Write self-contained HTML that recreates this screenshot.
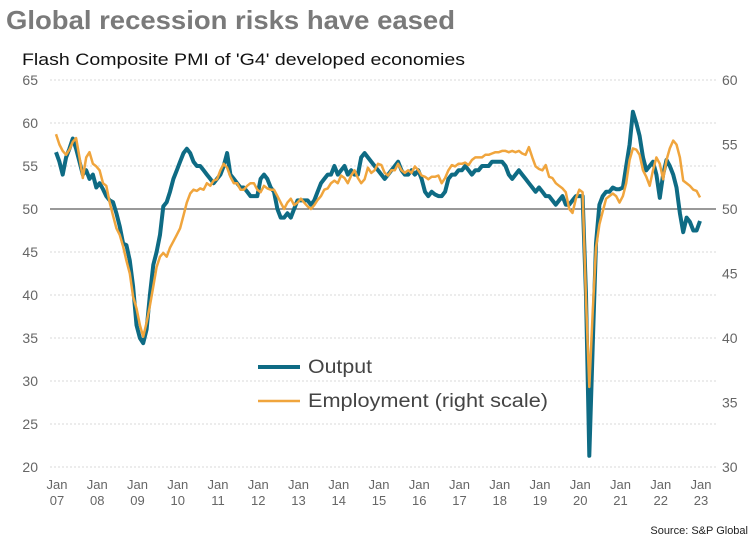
<!DOCTYPE html>
<html><head><meta charset="utf-8"><style>
body{margin:0;background:#fff;width:756px;height:544px;overflow:hidden}
svg{display:block;font-family:"Liberation Sans",sans-serif}
</style></head><body>
<svg id="chart" width="756" height="544">
<text x="6" y="29" font-size="26" font-weight="bold" fill="#7a7a7a" textLength="449" lengthAdjust="spacingAndGlyphs">Global recession risks have eased</text>
<text x="22" y="65" font-size="17" fill="#111" textLength="443" lengthAdjust="spacingAndGlyphs">Flash Composite PMI of 'G4' developed economies</text>
<g id="grid"></g><g id="axes"></g><g id="lines"></g>
<g>
<line x1="258" y1="367" x2="300" y2="367" stroke="#0e6b84" stroke-width="4"/>
<text x="308" y="373" font-size="19" fill="#444" textLength="64" lengthAdjust="spacingAndGlyphs">Output</text>
<line x1="258" y1="401" x2="300" y2="401" stroke="#f0a53d" stroke-width="2.5"/>
<text x="308" y="407" font-size="19" fill="#444" textLength="240" lengthAdjust="spacingAndGlyphs">Employment (right scale)</text>
</g>
<text x="748" y="534" font-size="11" fill="#222" text-anchor="end">Source: S&amp;P Global</text>
</svg>
<script>
const leftTicks=[20,25,30,35,40,45,50,55,60,65];
const rightTicks=[30,35,40,45,50,55,60];
const yearLabels=["07","08","09","10","11","12","13","14","15","16","17","18","19","20","21","22","23"];
const output=[
56.6,55.5,54,56,57,58.2,57,55.5,54,54.5,53.5,54,
52.5,53,52.3,51.5,51,50.8,49.5,48,46,45.8,44,41,
36.5,35,34.4,36,40,43.5,45,47,50.3,50.8,52,53.5,
54.5,55.5,56.5,57,56.5,55.5,55,55,54.5,54,53.5,53,
53.5,54,55,56.5,54,53.5,53,52.5,52.5,52,51.5,51.5,
51.5,53.5,54,53.5,52.5,52,50,49,49,49.5,49,50,
51,51,51,51,50.5,51,52,53,53.5,54,54,55,
54,54.5,55,54,54.5,54,54,56,56.5,56,55.5,55,
54.5,54,53.5,54,54.5,55,55.5,54.5,54,54,54.5,54,
54.5,53.5,52,51.5,52,51.7,51.5,51.5,52,53.5,54,54,
54.5,54.5,55,54.5,54,54.5,54.5,55,55,55,55.5,55.5,
55.5,55.5,55,54,53.5,54,54.5,54,53.5,53,52.5,52,
52.5,52,51.5,51.5,51,50.5,51,51.5,50.5,50.5,51,51.5,
51.5,51.5,40,21.3,34,46,50.5,51.5,52,52,52.5,52.3,
52.3,52.5,55,57.5,61.3,60,58.5,56,54.5,55,55.5,54,
51.3,54,55.7,55,54,52.5,49.5,47.3,49,48.5,47.5,47.5,
48.6];
const employment=[
55.8,55,54.5,54.2,54.6,55.2,55.5,54,52.4,54,54.4,53.5,
53.3,53,52,51.8,50.5,49.5,48.5,48,47.1,46,45,43.2,
42.3,41,40.1,41.2,42.5,44,45.5,46.3,46.6,46.3,47,47.5,
48,48.5,49.5,50.5,51.2,51.5,51.4,51.6,51.5,52,51.8,52.2,
52.3,53,53.5,53.2,52.5,52,52,51.5,51.5,51.8,52,52,
51.5,51.3,51.8,51.6,51.5,51.5,51,50.5,50,50.5,50.8,50.3,
50.5,50.8,50.5,50.2,50,50.3,50.7,51,51.5,51.6,52,52.2,
52,52.6,52.4,52,52.6,53,52.4,52,52.3,53.2,52.8,53,
53.5,53.4,52.8,52.6,53,53,53.5,53,52.8,53,52.8,53.3,
53,52.6,52.5,52.3,52.5,52.5,52.6,52,52.4,53,53.4,53.3,
53.5,53.5,53.6,53.4,53.8,54,54,54,54.2,54.2,54.3,54.4,
54.4,54.5,54.5,54.4,54.5,54.4,54.5,54.3,54.2,54.8,54,53.3,
53.1,53,53.4,52.5,52.4,52,51.8,51.6,51.3,50,49.7,50.8,
51.5,51.3,43,36.2,42,47,48.8,49.8,50.8,51,51.2,51,
50.5,51,52,53.8,54.7,54.6,54.2,53,52.5,51.8,53,54,
53.5,52.3,53.8,54.7,55.3,55,54,52.2,52,51.8,51.5,51.4,
50.9];
const NS="http://www.w3.org/2000/svg";
const X0=56,X1=700,T=80,B=467;
const xScale=i=>X0+i*(X1-X0)/192;
const yL=v=>T+(65-v)*(B-T)/45;
const yR=v=>T+(60-v)*(B-T)/30;
function mk(tag,attrs,parent,text){const e=document.createElementNS(NS,tag);for(const k in attrs)e.setAttribute(k,attrs[k]);if(text!==undefined)e.textContent=text;parent.appendChild(e);return e;}
const grid=document.getElementById('grid'),axes=document.getElementById('axes'),lines=document.getElementById('lines');
leftTicks.forEach(v=>{
 const y=yL(v);
 const g=mk('line',{x1:50,x2:716,y1:y,y2:y,stroke:'#d8d8d8','stroke-dasharray':'2,2'},grid);
 
 
 const t=mk('text',{x:38,y:y+5,'font-size':14,fill:'#666','text-anchor':'end'},axes,String(v));
 
 
});
rightTicks.forEach(v=>{
 const t=mk('text',{x:722,y:yR(v)+5,'font-size':14,fill:'#666'},axes,String(v));
 
 
});
const base=mk('line',{x1:50,x2:716,y1:yL(50),y2:yL(50),stroke:'#333','stroke-width':1},grid);


yearLabels.forEach((lab,k)=>{
 const x=xScale(k*12)+1;
 const a=mk('text',{x:x,y:489,'font-size':13,fill:'#666','text-anchor':'middle'},axes,'Jan');
 
 
 const b=mk('text',{x:x,y:505,'font-size':13,fill:'#666','text-anchor':'middle'},axes,lab);
 
 
});
const pe=mk('path',{d:employment.map((v,i)=>(i?'L':'M')+xScale(i).toFixed(1)+','+yR(v).toFixed(1)).join(''),fill:'none',stroke:'#f0a53d','stroke-width':2.5,'stroke-linejoin':'round'},lines);


const po=mk('path',{d:output.map((v,i)=>(i?'L':'M')+xScale(i).toFixed(1)+','+yL(v).toFixed(1)).join(''),fill:'none',stroke:'#0e6b84','stroke-width':4,'stroke-linejoin':'round'},lines);


lines.appendChild(pe);
</script>
</body></html>
